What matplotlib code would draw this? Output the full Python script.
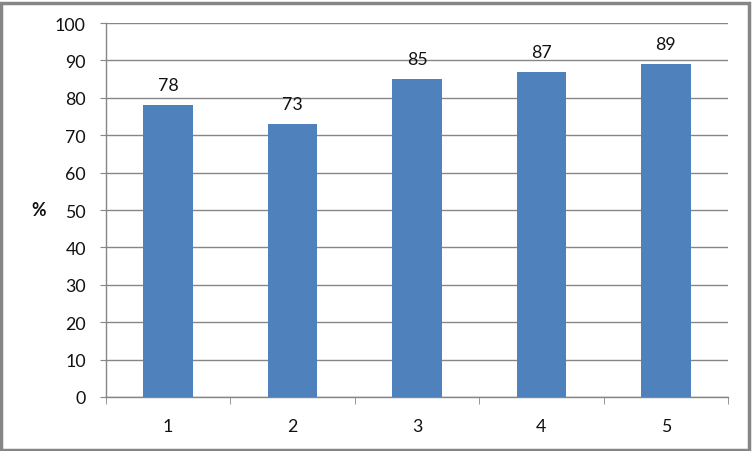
import matplotlib
matplotlib.use("Agg")
import matplotlib.pyplot as plt
from matplotlib.patches import Rectangle

categories = ["1", "2", "3", "4", "5"]
values = [78, 73, 85, 87, 89]
yticks = [0, 10, 20, 30, 40, 50, 60, 70, 80, 90, 100]

plt.rcParams['font.family'] = ['Lato', 'DejaVu Sans']

W, H = 752, 452
fig = plt.figure(figsize=(W / 100, H / 100), dpi=100)
ax = fig.add_axes([106 / W, (H - 398) / H, (728 - 106) / W, (398 - 24) / H])

grid_c = "#868686"
txt_c = "#111111"
x = list(range(len(categories)))
bars = ax.bar(x, values, width=0.4, color="#4F81BD", zorder=3)
for xi, v in zip(x, values):
    ax.text(xi, v + 3.2, str(v), ha="center", va="bottom", fontsize=12.8, color=txt_c)

ax.set_xlim(-0.5, len(categories) - 0.5)
ax.set_ylim(0, 100)
ax.set_yticks(yticks)
ax.set_yticklabels([str(t) for t in yticks], fontsize=12.8, color=txt_c)
ax.set_xticks(x)
ax.set_xticklabels(categories, fontsize=12.8, color=txt_c)
ax.set_xticks([i - 0.5 for i in range(len(categories) + 1)], minor=True)

ax.yaxis.grid(True, color=grid_c, linewidth=1, zorder=0)
ax.set_axisbelow(True)
for s in ["top", "right"]:
    ax.spines[s].set_visible(False)
for s in ["left", "bottom"]:
    ax.spines[s].set_color(grid_c)
    ax.spines[s].set_linewidth(1)

ax.tick_params(axis="y", direction="out", length=4.5, color=grid_c, pad=10)
ax.tick_params(axis="x", which="major", length=0, pad=15)
ax.tick_params(axis="x", which="minor", direction="out", length=5, color=grid_c)

ax.set_ylabel("%", rotation=0, fontsize=12.8, fontweight="bold", color=txt_c, labelpad=12, va="center")

fig.patches.append(Rectangle((1.5 / W, 1.5 / H), (W - 5) / W, (H - 5) / H,
                             transform=fig.transFigure, fill=False,
                             edgecolor="#868686", linewidth=2.5))

fig.savefig("out.png", dpi=100)
